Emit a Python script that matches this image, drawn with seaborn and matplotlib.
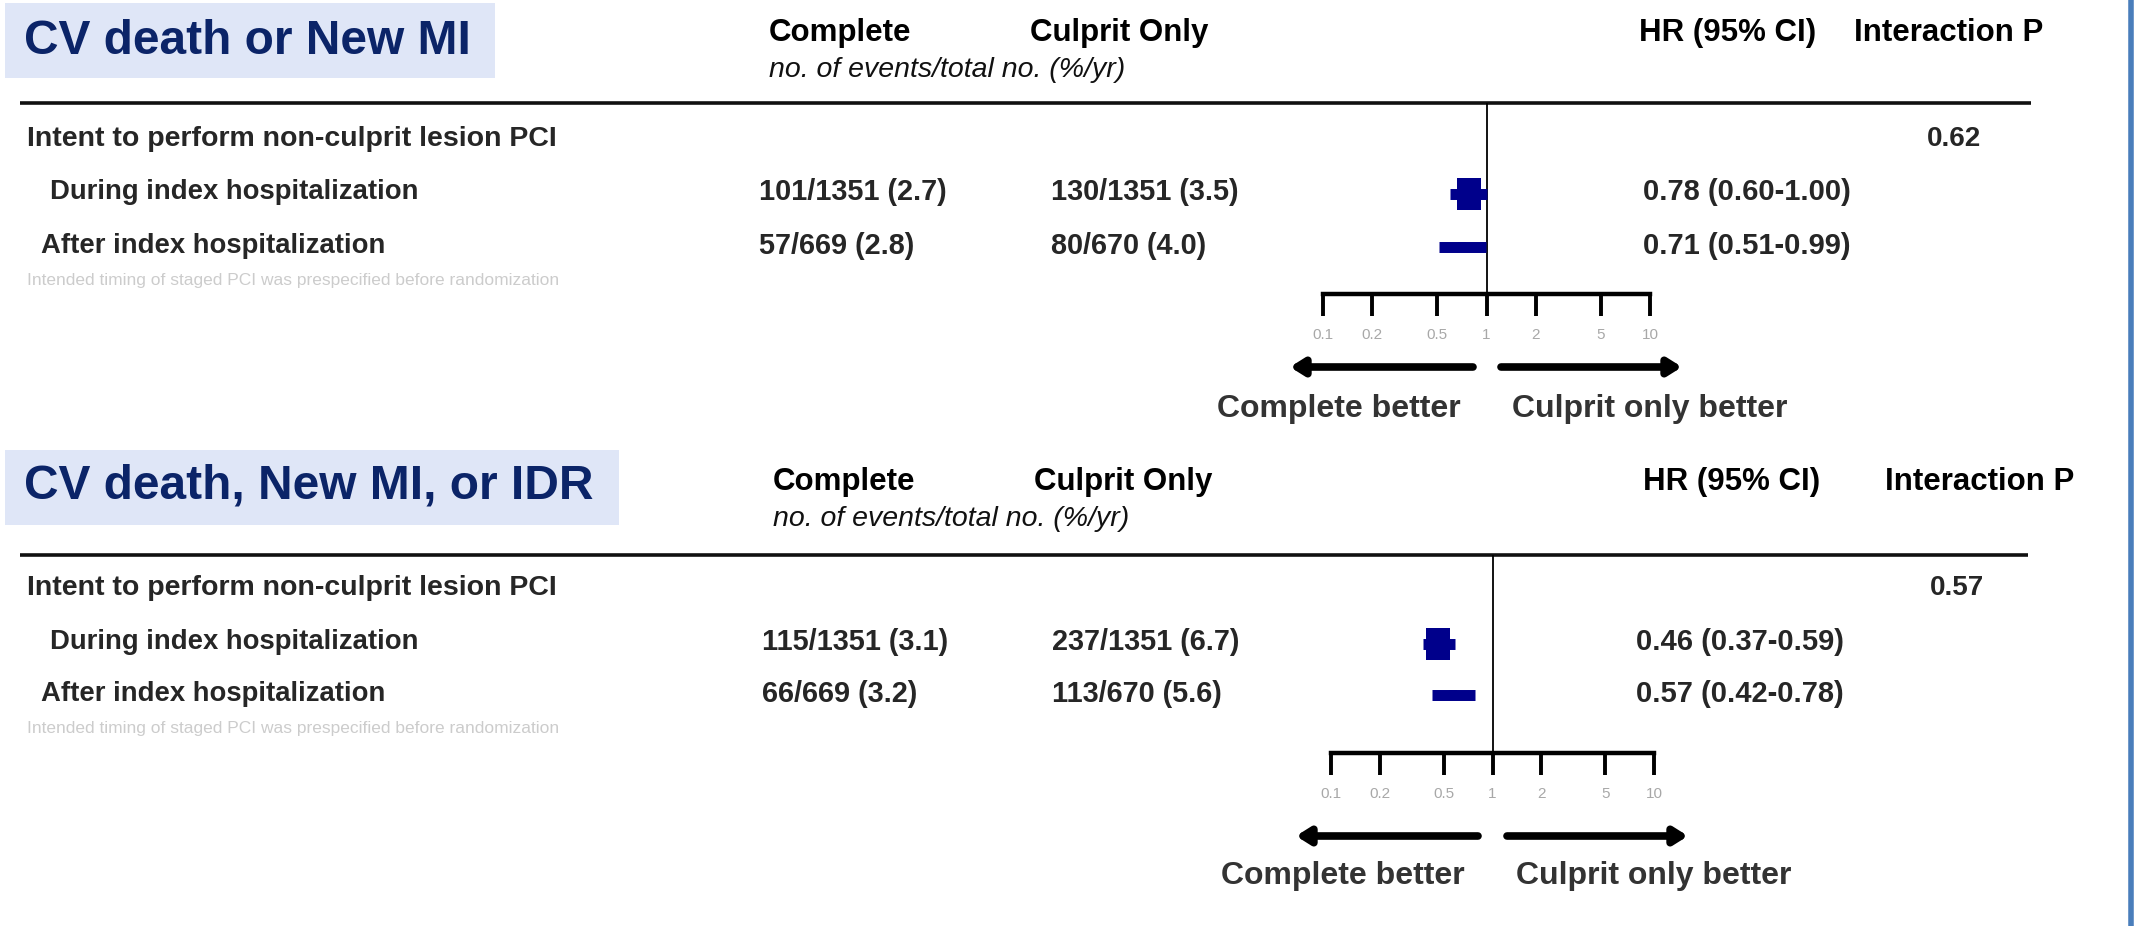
import numpy as np
import pandas as pd
import matplotlib
matplotlib.use("Agg")
import matplotlib.pyplot as plt
from matplotlib.path import Path
from matplotlib.ticker import NullLocator
import seaborn as sns

# ---------------- data ----------------
panel_titles = ["CV death or New MI", "CV death, New MI, or IDR"]
col_complete = "Complete"
col_culprit = "Culprit Only"
col_sub = "no. of events/total no. (%/yr)"
col_hr = "HR (95% CI)"
col_p = "Interaction P"
group_label = "Intent to perform non-culprit lesion PCI"
subgroups = ["During index hospitalization", "After index hospitalization"]
footnote = "Intended timing of staged PCI was prespecified before randomization"

p1_complete = ["101/1351 (2.7)", "57/669 (2.8)"]
p1_culprit = ["130/1351 (3.5)", "80/670 (4.0)"]
p1_hr = [0.78, 0.71]
p1_lo = [0.60, 0.51]
p1_hi = [1.00, 0.99]
p1_interaction = "0.62"

p2_complete = ["115/1351 (3.1)", "66/669 (3.2)"]
p2_culprit = ["237/1351 (6.7)", "113/670 (5.6)"]
p2_hr = [0.46, 0.57]
p2_lo = [0.37, 0.42]
p2_hi = [0.59, 0.78]
p2_interaction = "0.57"

tick_values = [0.1, 0.2, 0.5, 1, 2, 5, 10]
tick_labels = ["0.1", "0.2", "0.5", "1", "2", "5", "10"]
direction_labels = ["Complete better", "Culprit only better"]

panels_data = [
    dict(title=panel_titles[0], complete=p1_complete, culprit=p1_culprit,
         hr=p1_hr, lo=p1_lo, hi=p1_hi, p=p1_interaction),
    dict(title=panel_titles[1], complete=p2_complete, culprit=p2_culprit,
         hr=p2_hr, lo=p2_lo, hi=p2_hi, p=p2_interaction),
]

# ---------------- layout (pixels) ----------------
W, H = 2134, 926
layout = [
    dict(box=(5, 3, 495, 78), title_y=41, head_y=33, ital_y=70, line_y=103,
         rows=[139, 192, 246], foot_y=280, axis_y=294, fx=(1323, 1650),
         head_x=[769, 1030, 1639, 1854], data_x=[759, 1051, 1643], p_x=1927,
         line_x=(20, 2031), arrow_y=367, arrows=((1473, 1290), (1501, 1682)),
         arr_lbl_y=409, arr_lbl_x=(1339, 1650)),
    dict(box=(5, 450, 619, 525), title_y=486, head_y=482, ital_y=519, line_y=555,
         rows=[588, 642, 694], foot_y=728, axis_y=753, fx=(1331, 1654),
         head_x=[773, 1034, 1643, 1885], data_x=[762, 1052, 1636], p_x=1930,
         line_x=(20, 2028), arrow_y=836, arrows=((1478, 1296), (1507, 1688)),
         arr_lbl_y=876, arr_lbl_x=(1343, 1654)),
]
marker_sizes = [500, 60]
navy = "#00008b"
title_color = "#0b2468"
box_color = "#dfe6f7"

sns.set_theme(style="white")
plt.rcParams["font.family"] = ["Liberation Sans", "DejaVu Sans"]

fig = plt.figure(figsize=(W / 100, H / 100), dpi=100)
bg = fig.add_axes([0, 0, 1, 1])
bg.set_xlim(0, W)
bg.set_ylim(H, 0)
bg.axis("off")

rect_marker = Path([(-0.39, -0.5), (0.39, -0.5), (0.39, 0.5), (-0.39, 0.5), (-0.39, -0.5)],
                   closed=True)

for pdat, L in zip(panels_data, layout):
    x0, y0, x1, y1 = L["box"]
    bg.fill_between([x0, x1], y0, y1, color=box_color, lw=0, zorder=0)
    bg.text(24, L["title_y"], pdat["title"], fontsize=34.5, fontweight="bold",
            color=title_color, va="center", ha="left")
    # headers
    for hx, txt in zip(L["head_x"], [col_complete, col_culprit, col_hr, col_p]):
        bg.text(hx, L["head_y"], txt, fontsize=22.5, fontweight="bold",
                va="center", ha="left", color="black")
    bg.text(L["head_x"][0], L["ital_y"], col_sub, fontsize=20.5, style="italic",
            va="center", ha="left", color="#111111")
    bg.plot(L["line_x"], [L["line_y"], L["line_y"]], color="#111111", lw=2.6,
            solid_capstyle="butt")
    # row labels
    r = L["rows"]
    bg.text(27, r[0], group_label, fontsize=20.5, fontweight="bold", va="center", ha="left")
    bg.text(50, r[1], subgroups[0], fontsize=19.8, fontweight="bold", va="center", ha="left")
    bg.text(41, r[2], subgroups[1], fontsize=19.8, fontweight="bold", va="center", ha="left")
    bg.text(27, L["foot_y"], footnote, fontsize=12.5, color="#cccccc", va="center", ha="left")
    bg.text(L["p_x"], r[0], pdat["p"], fontsize=20, fontweight="bold", va="center", ha="left")
    for i in range(2):
        bg.text(L["data_x"][0], r[i + 1], pdat["complete"][i], fontsize=20.8,
                fontweight="bold", va="center", ha="left")
        bg.text(L["data_x"][1], r[i + 1], pdat["culprit"][i], fontsize=20.8,
                fontweight="bold", va="center", ha="left")
        hr_txt = f"{pdat['hr'][i]:.2f} ({pdat['lo'][i]:.2f}-{pdat['hi'][i]:.2f})"
        bg.text(L["data_x"][2], r[i + 1], hr_txt, fontsize=21,
                fontweight="bold", va="center", ha="left")
    # direction arrows
    for (xs, xe), lab, lx in zip(L["arrows"], direction_labels, L["arr_lbl_x"]):
        bg.annotate("", xy=(xe, L["arrow_y"]), xytext=(xs, L["arrow_y"]),
                    arrowprops=dict(arrowstyle="-|>,head_length=0.35,head_width=0.22",
                                    lw=5.5, color="black", mutation_scale=22,
                                    shrinkA=0, shrinkB=0))
        bg.text(lx, L["arr_lbl_y"], lab, fontsize=23, fontweight="bold",
                color="#333333", va="center", ha="center")

    # forest axes
    fx0, fx1 = L["fx"]
    top, bot = L["line_y"], L["axis_y"]
    axf = fig.add_axes([fx0 / W, 1 - bot / H, (fx1 - fx0) / W, (bot - top) / H])
    axf.set_facecolor("none")
    axf.set_xscale("log")
    axf.set_xlim(0.1, 10)
    axf.set_ylim(bot, top)
    df = pd.DataFrame({"hr": pdat["hr"], "lo": pdat["lo"], "hi": pdat["hi"],
                       "y": [r[1] + 2, r[2] + 1]})
    axf.axvline(1, color="black", lw=1.3, zorder=1)
    axf.hlines(df["y"], df["lo"], df["hi"], color=navy, lw=7.9, capstyle="butt", zorder=2)
    sns.scatterplot(data=df, x="hr", y="y", ax=axf, marker=rect_marker,
                    s=marker_sizes, color=navy, edgecolor=navy, linewidth=0,
                    legend=False, zorder=3)
    axf.set_xticks(tick_values)
    axf.set_xticklabels(tick_labels)
    axf.xaxis.set_minor_locator(NullLocator())
    axf.set_yticks([])
    axf.set_xlabel("")
    axf.set_ylabel("")
    for s in ["top", "left", "right"]:
        axf.spines[s].set_visible(False)
    axf.spines["bottom"].set_linewidth(3.2)
    axf.spines["bottom"].set_color("black")
    axf.tick_params(axis="x", bottom=True, length=15.5, width=2.8, direction="out",
                    pad=9, labelsize=11, labelcolor="#a8a8a8", color="black")

# right slide border
bg.plot([2131, 2131], [0, H], color="#4a7ebb", lw=4)

fig.savefig("out.png", dpi=100)
